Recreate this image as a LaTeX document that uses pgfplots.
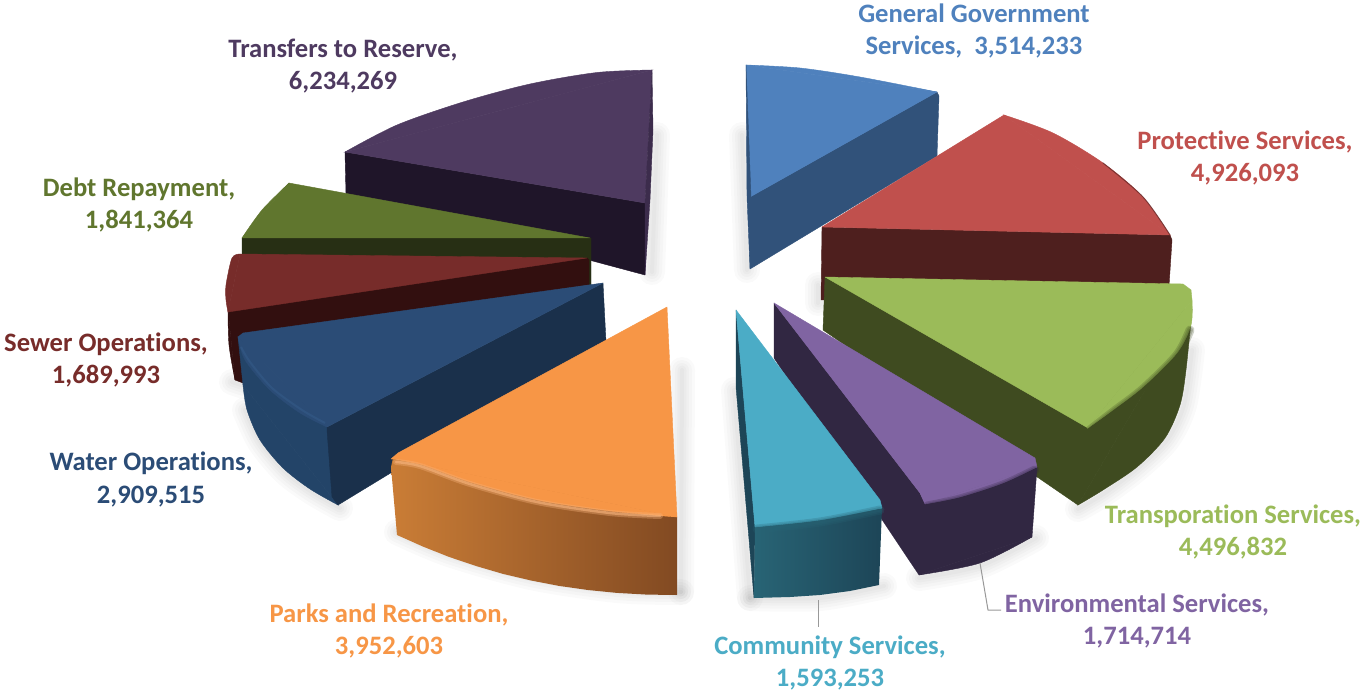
\documentclass[border=0pt]{standalone}
\usepackage{fontspec}
\setmainfont{Carlito}[Ligatures=NoCommon]
\usepackage{pgfplots}
\pgfplotsset{compat=1.18}

% slice colours: top face, side face, label
\definecolor{gov}{HTML}{4F81BD}\definecolor{govS}{HTML}{31527A}
\definecolor{pro}{HTML}{C0504D}\definecolor{proS}{HTML}{4E1F1E}
\definecolor{tra}{HTML}{9BBB59}\definecolor{traS}{HTML}{3F4B20}
\definecolor{env}{HTML}{8064A2}\definecolor{envS}{HTML}{312742}
\definecolor{com}{HTML}{4BACC6}\definecolor{comA}{HTML}{286475}\definecolor{comB}{HTML}{1D4557}
\definecolor{par}{HTML}{F79646}\definecolor{parA}{HTML}{CA7D36}\definecolor{parB}{HTML}{824A22}
\definecolor{wat}{HTML}{2B4C76}\definecolor{watS}{HTML}{1A304B}\definecolor{watO}{HTML}{234468}
\definecolor{sew}{HTML}{772C2A}\definecolor{sewS}{HTML}{320F0F}
\definecolor{deb}{HTML}{60762E}\definecolor{debS}{HTML}{272F14}
\definecolor{res}{HTML}{4E3A60}\definecolor{resS}{HTML}{1F1529}\definecolor{resE}{HTML}{3C2C4C}

% flat face of a slice
\newcommand{\face}[2]{\addplot[fill=#1,draw=#1,line width=0.4pt,line join=round,forget plot] coordinates {#2} -- cycle;}
% rounded rim of a slice: smooth curve closed by its chord
\newcommand{\rim}[2]{\addplot[smooth,fill=#1,draw=#1,line width=0.4pt,forget plot] coordinates {#2} -- cycle;}
% face shaded from left to right
\newcommand{\gface}[3]{\addplot[left color=#1,right color=#2,draw=none,forget plot] coordinates {#3} -- cycle;}
% one translucent stroke along a curve
\newcommand{\stroke}[4]{\addplot[smooth,draw=#1,opacity=#2,line width=#3pt,line cap=round,forget plot] coordinates {#4};}
% soft bevel built from stacked translucent strokes
\newcommand{\soft}[2]{\stroke{#1}{0.25}{9}{#2}\stroke{#1}{0.25}{6}{#2}\stroke{#1}{0.25}{3}{#2}}
% soft ground shadow
\newcommand{\shadow}[1]{\stroke{black}{0.02}{26}{#1}\stroke{black}{0.02}{20}{#1}\stroke{black}{0.02}{14}{#1}\stroke{black}{0.02}{9}{#1}\stroke{black}{0.02}{4}{#1}}
% two-line data label, given by centre and the two baselines
\newcommand{\lab}[5]{%
  \node[anchor=base,text=#2,font=\fontsize{26.6}{30}\selectfont\bfseries,inner sep=0pt] at (axis cs:#1,#3) {#4};
  \node[anchor=base,text=#2,font=\fontsize{26.6}{30}\selectfont\bfseries,inner sep=0pt] at (axis cs:#1,#3+32) {#5};}

\begin{document}
\begin{tikzpicture}
\begin{axis}[
  hide axis, scale only axis, width=1363pt, height=692pt,
  xmin=0, xmax=1363, ymin=0, ymax=692, y dir=reverse, clip=false]

\addplot[fill=white,draw=none,forget plot] coordinates {(0,0)(1363,0)(1363,692)(0,692)} -- cycle;

% ground shadows
\shadow{(657,135)(652,272)}
\shadow{(742,135)(747,270)}
\shadow{(818,285)(818,303)}
\shadow{(682,370)(681,592)}
\shadow{(681,592)(617,590)(531,577)(449,554)(397,532)}
\shadow{(1192,350)(1184,405)(1167,440)(1137,469)(1105,493)(1078,509)}
\shadow{(919,578)(980,566)(1036,538)}
\shadow{(734,390)(750,598)}
\shadow{(750,598)(820,598)(884,586)}
\shadow{(245,410)(260,442)(285,472)(312,492)(340,508)}
\shadow{(232,382)(244,386)}

% Transfers to Reserve
\face{resS}{(345,152)(346,195)(645,275)(645,203)}
\rim{res}{(652,70)(597,72.5)(530,84)(463,102)(397,125)(345,152)}
\face{res}{(652,70)(345,152)(645,203)}
\face{resE}{(652,70)(653,130)(650,200)(645,275)(645,203)}

% Debt Repayment
\face{debS}{(242,238)(242,256)(591,285)(591,238)}
\rim{deb}{(289,183)(262,210)(242,238)}
\face{deb}{(289,183)(242,238)(590,238)}

% Sewer Operations
\rim{sewS}{(228,308)(229,345)(235,380)}
\face{sewS}{(587,258)(228,308)(235,380)(243,383)(243,340)(589,285)(589,260)}
\rim{sew}{(240,254)(232,258)(226,285)(226,300)(228,312)}
\face{sew}{(587,258)(240,254)(228,312)}

% Water Operations
\rim{watO}{(243,385)(247,410)(260,440)(283,468)(310,489)(338,505)}
\face{watO}{(238,337)(243,385)(338,505)(327,427)}
\rim{wat}{(238,337)(245,360)(270,390)(300,413)(327,427)}
\face{watS}{(603,283)(606,342)(338,505)(332,497)(327,430)(327,427)}
\face{wat}{(603,283)(243,333)(238,337)(327,427)}
\addplot[smooth,draw=watO!55!gov,line width=2pt,opacity=0.45,forget plot] coordinates {(241,347)(250,362)(272,388)(302,410)(325,423)};

% General Government Services
\face{govS}{(750,197)(937,92)(939,96)(937,156)(750,269)}
\rim{gov}{(746,65)(800,68)(860,77)(937,92)}
\face{gov}{(746,65)(937,92)(750,197)}
\face{govS}{(746,65)(751,197)(750,269)(747,197)}

% Protective Services
\face{proS}{(822,227)(1170,235)(1172,240)(1169,286)(826,284)(826,300)(821,300)}
\rim{pro}{(1004,115)(1053,133)(1103,163)(1143,197)(1170,235)}
\face{pro}{(1004,115)(1170,235)(822,227)}
\stroke{proS}{0.6}{1}{(1103,163)(1143,197)(1170,235)}

% Transporation Services
\rim{traS}{(1192,310)(1186,370)(1180,405)(1165,438)(1137,467)(1103,490)(1078,505)}
\face{traS}{(825,277)(823,330)(1078,505)(1192,310)}
\rim{tra}{(1192,300)(1191,325)(1177,353)(1143,387)(1113,410)(1088,428)}
\face{tra}{(825,277)(1183,284)(1191,290)(1192,300)(1088,428)}
\soft{traS}{(1190,330)(1177,355)(1143,389)(1113,412)(1090,430)}

% Environmental Services
\rim{envS}{(919,575)(980,563)(1032,537)}
\face{envS}{(774,303)(774,358)(919,575)(1032,537)(1037,467)(925,504)(920,493)}
\rim{env}{(1037,467)(1003,483)(960,497)(925,504)}
\face{env}{(774,303)(1035,458)(1037,467)(925,504)(920,493)}
\soft{envS}{(1035,470)(1003,485)(960,499)(927,506)}

% Community Services
\face{comB}{(736,310)(755,527)(754,598)(736,387)}
\gface{comA}{comB}{(755,527)(882,508)(879,585)(850,591)(820,595)(790,597)(754,598)}
\rim{com}{(882,508)(820,520)(755,527)}
\face{com}{(736,310)(880,500)(882,508)(755,527)}
\soft{comA}{(880,510)(820,522)(757,529)}

% Parks and Recreation
\gface{parA}{parB}{(393,458)(391,467)(397,535)(423,546.6)(449,556.9)(476,566)(503,573.9)(531,580.5)(559,585.9)(588,590)(617,592.9)(647,594.6)(677,595)(677,517)(405,459)}
\rim{par}{(677,517)(610,511)(537,500)(470,482)(420,464)(396,459)}
\face{par}{(667,307)(677,517)(396,459)(391,459)(398,453)}
\stroke{par!70!white}{0.35}{6}{(396,462)(420,466)(470,484)(537,502)(610,513)(660,516)}
\stroke{par!70!white}{0.6}{2.5}{(396,462)(420,466)(470,484)(537,502)(610,513)(660,516)}

% leader lines
\addplot[draw=gray!80,line width=1pt,forget plot] coordinates {(818,600)(818,627)};
\addplot[draw=gray!80,line width=1pt,forget plot] coordinates {(980,563)(988,610)(1001,610)};

% data labels
\lab{974}{gov}{23}{General Government}{Services,~~3,514,233}
\lab{1245}{pro}{149.5}{Protective Services,}{4,926,093}
\lab{1233}{tra}{523}{Transporation Services,}{4,496,832}
\lab{1137}{env}{612}{Environmental Services,}{1,714,714}
\lab{830}{com}{654}{Community Services,}{1,593,253}
\lab{389}{par}{622}{Parks and Recreation,}{3,952,603}
\lab{151}{wat}{471}{Water Operations,}{2,909,515}
\lab{106}{sew}{352}{Sewer Operations,}{1,689,993}
\lab{139}{deb}{197}{Debt Repayment,}{1,841,364}
\lab{343}{res}{58}{Transfers to Reserve,}{6,234,269}
\end{axis}
\end{tikzpicture}
\end{document}
